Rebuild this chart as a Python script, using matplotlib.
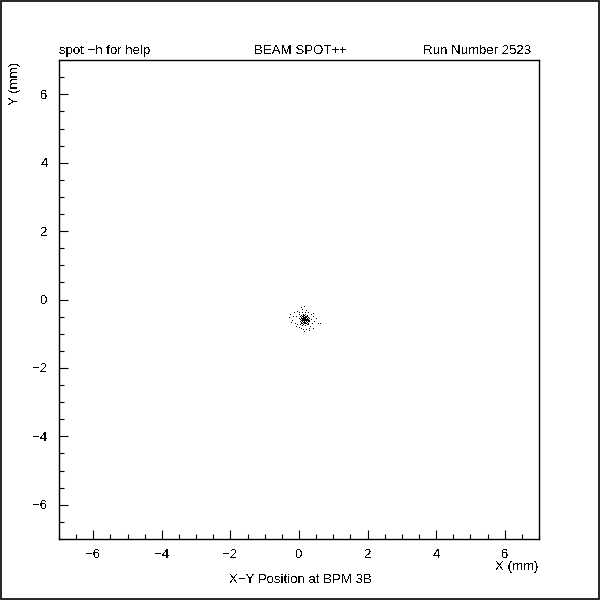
import matplotlib
matplotlib.use("Agg")
import matplotlib.pyplot as plt
from matplotlib.patches import Rectangle
from matplotlib.ticker import MultipleLocator

# beam spot hits (mm)
x_mm = [0.00, 0.03, 0.06, 0.09, 0.12, 0.15, 0.18, 0.21, 0.24, 0.27,
        0.01, 0.04, 0.07, 0.10, 0.13, 0.16, 0.19, 0.22, 0.25, 0.28,
        0.02, 0.05, 0.08, 0.11, 0.14, 0.17, 0.20, 0.23, 0.26, 0.30,
        0.04, 0.09, 0.13, 0.18, 0.22, 0.27,
        0.10, 0.14, 0.17, 0.12, 0.19, 0.08, 0.15, 0.21, 0.06, 0.24,
        0.11, 0.16, 0.13, 0.18, 0.10, 0.20, 0.07, 0.25,
        0.05, 0.08, 0.11, 0.14, 0.17, 0.20, 0.23, 0.26, 0.09, 0.12,
        0.15, 0.18, 0.21, 0.24, 0.06, 0.10, 0.14, 0.19, 0.22, 0.16,
        0.03, 0.28, 0.12, 0.17, 0.08, 0.23, 0.14, 0.20, 0.11, 0.26,
        -0.30, -0.25, -0.20, -0.15, -0.12, -0.08, -0.05, -0.10, -0.18, -0.22,
        0.05, 0.10, 0.15, 0.20, 0.00, 0.25, 0.18, 0.08,
        0.40, 0.45, 0.50, 0.38, 0.55, 0.62, 0.42, 0.35, 0.36, 0.33,
        0.05, 0.12, 0.20, 0.28, 0.00, 0.30, 0.15, -0.05, 0.40]
y_mm = [-0.45, -0.50, -0.47, -0.52, -0.44, -0.49, -0.46, -0.51, -0.48, -0.53,
        -0.56, -0.60, -0.55, -0.58, -0.54, -0.61, -0.56, -0.59, -0.55, -0.62,
        -0.66, -0.70, -0.64, -0.68, -0.65, -0.71, -0.66, -0.69, -0.64, -0.67,
        -0.75, -0.77, -0.74, -0.78, -0.75, -0.73,
        -0.50, -0.57, -0.52, -0.62, -0.63, -0.60, -0.68, -0.55, -0.53, -0.61,
        -0.55, -0.58, -0.60, -0.60, -0.64, -0.70, -0.68, -0.67,
        -0.58, -0.56, -0.61, -0.59, -0.64, -0.62, -0.57, -0.60, -0.66, -0.52,
        -0.55, -0.53, -0.65, -0.58, -0.63, -0.67, -0.71, -0.50, -0.62, -0.64,
        -0.61, -0.57, -0.48, -0.68, -0.72, -0.52, -0.62, -0.59, -0.57, -0.70,
        -0.55, -0.45, -0.62, -0.40, -0.70, -0.52, -0.35, -0.80, -0.52, -0.68,
        -0.25, -0.30, -0.22, -0.33, -0.38, -0.38, -0.40, -0.40,
        -0.50, -0.65, -0.58, -0.72, -0.72, -0.70, -0.42, -0.60, -0.45, -0.80,
        -0.85, -0.90, -0.88, -0.92, -0.82, -0.85, -0.95, -0.75, -0.85]

plt.rcParams['font.family'] = ['Liberation Sans', 'DejaVu Sans']
plt.rcParams['text.antialiased'] = False
plt.rcParams['lines.antialiased'] = False

fig = plt.figure(figsize=(6, 6), dpi=100)
fig.patches.append(Rectangle((0.001, 0.001), 0.997, 0.997, transform=fig.transFigure,
                             fill=False, edgecolor='black', linewidth=1.2))

ax = fig.add_axes([0.0983, 0.1017, 0.8, 0.798])
ax.plot(x_mm, y_mm, ',', color='black')

ax.set_xlim(-7, 7)
ax.set_ylim(-7, 7)
for a in (ax.xaxis, ax.yaxis):
    a.set_major_locator(MultipleLocator(2))
    a.set_minor_locator(MultipleLocator(0.5))
ax.tick_params(which='both', direction='in', top=False, right=False,
               width=0.8, labelsize=9.5, colors='black')
ax.tick_params(which='major', length=6.5)
ax.tick_params(which='minor', length=3.6)
ax.tick_params(axis='x', pad=7)
ax.tick_params(axis='y', pad=8)
for s in ax.spines.values():
    s.set_linewidth(1.0)

fs = 9.5
fig.text(0.0983, 0.91, 'spot \u2212h for help', fontsize=fs, va='baseline', ha='left')
fig.text(0.5, 0.91, 'BEAM SPOT++', fontsize=fs, va='baseline', ha='center')
fig.text(0.885, 0.91, 'Run Number 2523', fontsize=fs, va='baseline', ha='right')
fig.text(0.025, 0.897, 'Y (mm)', fontsize=fs, rotation=90, va='top', ha='center')
fig.text(0.898, 0.055, 'X (mm)', fontsize=fs, va='center', ha='right')
fig.text(0.5, 0.034, 'X\u2212Y Position at BPM 3B', fontsize=fs, va='center', ha='center')

fig.savefig('out.png', dpi=100, facecolor='white')
